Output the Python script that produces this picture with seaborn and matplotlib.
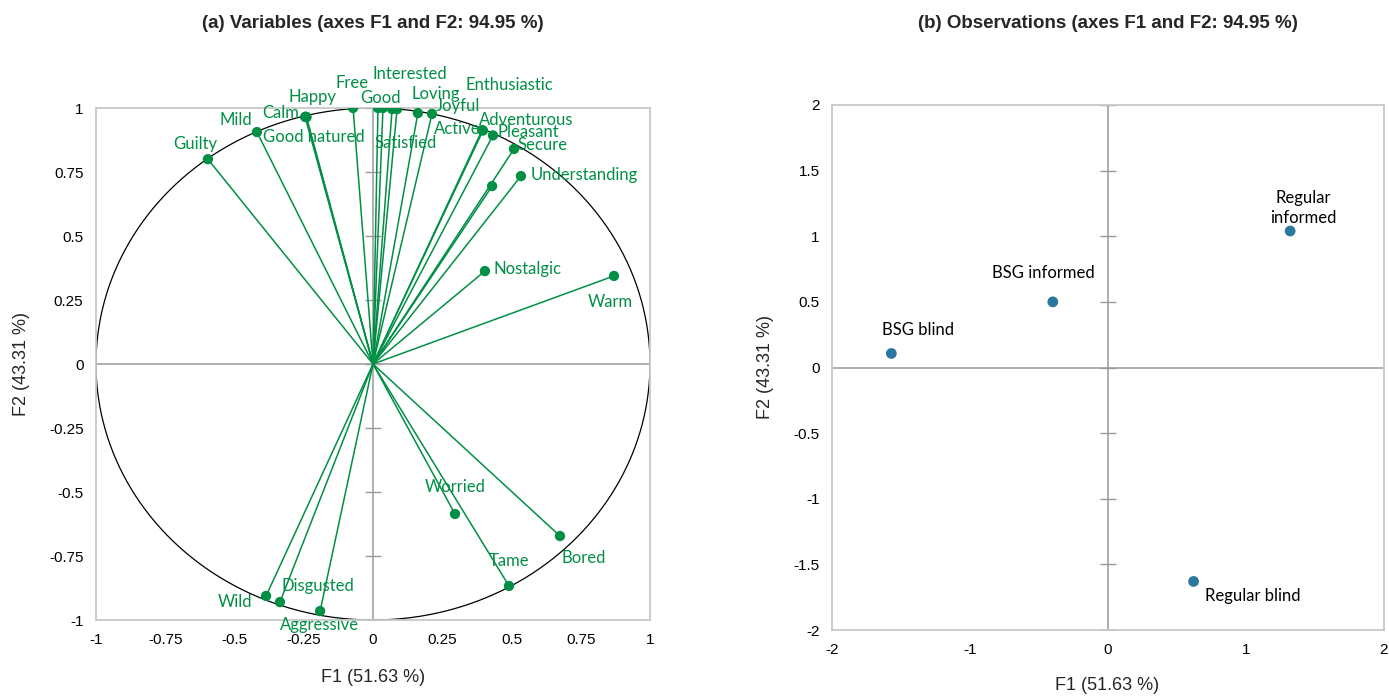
import numpy as np
import pandas as pd
import matplotlib
matplotlib.use("Agg")
import matplotlib.pyplot as plt
import seaborn as sns

# variables (correlation circle)
var_names = ["Guilty", "Mild", "Calm", "Happy", "Good natured", "Free", "Good",
             "Interested", "Satisfied", "Enthusiastic", "Loving", "Joyful",
             "Active", "Adventurous", "Pleasant", "Secure", "Understanding", "",
             "Nostalgic", "Warm", "Worried", "Bored", "Tame", "Wild",
             "Disgusted", "Aggressive"]
var_f1 = [-0.596, -0.419, -0.245, -0.242, -0.240, -0.072, 0.018,
          0.036, 0.069, 0.087, 0.162, 0.213,
          0.394, 0.397, 0.433, 0.509, 0.534, 0.430,
          0.404, 0.870, 0.296, 0.675, 0.491, -0.386,
          -0.336, -0.191]
var_f2 = [0.800, 0.906, 0.965, 0.966, 0.964, 1.000, 1.000,
          1.000, 0.996, 0.996, 0.980, 0.977,
          0.914, 0.912, 0.893, 0.840, 0.734, 0.695,
          0.363, 0.344, -0.586, -0.672, -0.867, -0.906,
          -0.930, -0.965]

# observations
obs_names = ["BSG blind", "BSG informed", "Regular\ninformed", "Regular blind"]
obs_f1 = [-1.57, -0.40, 1.32, 0.62]
obs_f2 = [0.107, 0.50, 1.04, -1.63]

# label offsets in pixels (layout only)
var_offsets = {
    "Guilty": (-13, 15), "Mild": (-21, 12), "Calm": (-24, 4), "Happy": (7, 20),
    "Good natured": (7, -20), "Free": (-1, 25), "Good": (3, 10),
    "Interested": (27, 34), "Satisfied": (14, -34), "Enthusiastic": (112, 24),
    "Loving": (18, 19), "Joyful": (26, 8), "Active": (-25, 1),
    "Adventurous": (43, 11), "Pleasant": (35, 3), "Secure": (29, 4),
    "Understanding": (63, 1), "Nostalgic": (43, 2), "Warm": (-4, -26),
    "Worried": (0, 27), "Bored": (24, -22), "Tame": (0, 25),
    "Disgusted": (38, 16), "Wild": (-31, -6), "Aggressive": (-1, -14),
}
obs_offsets = {"BSG blind": (27, 23), "BSG informed": (-9, 29),
               "Regular\ninformed": (13, 23), "Regular blind": (59, -15)}

sns.set_style("white")
plt.rcParams["font.family"] = ["Liberation Sans", "DejaVu Sans"]

green = "#008f45"
blue = "#2b77a0"
frame = "#c8c8c8"
axis_gray = "#999999"
label_font = "Lato"

fig = plt.figure(figsize=(13.89, 6.97), dpi=100)
ax1 = fig.add_axes([96 / 1389, 77 / 697, 554 / 1389, 512 / 697])
ax2 = fig.add_axes([832 / 1389, 67 / 697, 552 / 1389, 525 / 697])

# ---- (a) variables
t = np.linspace(0, 2 * np.pi, 400)
ax1.plot(np.cos(t), np.sin(t), color="black", lw=0.9, zorder=2)
ax1.axhline(0, color=axis_gray, lw=1.1, zorder=1)
ax1.axvline(0, color=axis_gray, lw=1.1, zorder=1)
for x, y in zip(var_f1, var_f2):
    ax1.plot([0, x], [0, y], color=green, lw=1.1, zorder=3)
df_var = pd.DataFrame({"F1": var_f1, "F2": var_f2, "name": var_names})
sns.scatterplot(data=df_var, x="F1", y="F2", ax=ax1, color=green, s=55,
                edgecolor="none", zorder=4)
for name, x, y in zip(var_names, var_f1, var_f2):
    if not name:
        continue
    dx, dy = var_offsets[name]
    ax1.annotate(name, (x, y), xytext=(dx, dy), textcoords="offset pixels",
                 ha="center", va="center", color=green, fontsize=12,
                 family=label_font)
ticks1 = [-1, -0.75, -0.5, -0.25, 0, 0.25, 0.5, 0.75, 1]
tick_lab1 = ["-1", "-0.75", "-0.5", "-0.25", "0", "0.25", "0.5", "0.75", "1"]
ax1.set_xlim(-1, 1)
ax1.set_ylim(-1, 1)
ax1.set_xticks(ticks1, tick_lab1)
ax1.set_yticks(ticks1, tick_lab1)
ax1.plot(np.zeros(len(ticks1)), ticks1, ls="none", marker="_", ms=12,
         mew=1, color=axis_gray, zorder=1)

# ---- (b) observations
ax2.axhline(0, color=axis_gray, lw=1.1, zorder=1)
ax2.axvline(0, color=axis_gray, lw=1.1, zorder=1)
df_obs = pd.DataFrame({"F1": obs_f1, "F2": obs_f2, "name": obs_names})
sns.scatterplot(data=df_obs, x="F1", y="F2", ax=ax2, color=blue, s=60,
                edgecolor="none", zorder=4)
for name, x, y in zip(obs_names, obs_f1, obs_f2):
    dx, dy = obs_offsets[name]
    ax2.annotate(name, (x, y), xytext=(dx, dy), textcoords="offset pixels",
                 ha="center", va="center", color="black", fontsize=12,
                 family=label_font, linespacing=1.25)
ticks2 = [-2, -1.5, -1, -0.5, 0, 0.5, 1, 1.5, 2]
ax2.set_xlim(-2, 2)
ax2.set_ylim(-2, 2)
ax2.set_xticks([-2, -1, 0, 1, 2], ["-2", "-1", "0", "1", "2"])
ax2.set_yticks(ticks2, ["-2", "-1.5", "-1", "-0.5", "0", "0.5", "1", "1.5", "2"])
ax2.plot(np.zeros(len(ticks2)), ticks2, ls="none", marker="_", ms=12,
         mew=1, color=axis_gray, zorder=1)

for ax in (ax1, ax2):
    for sp in ax.spines.values():
        sp.set_color(frame)
        sp.set_linewidth(1.3)
    ax.tick_params(length=0, labelsize=11, colors="black", pad=9)
    ax.set_xlabel("")
    ax.set_ylabel("")
    legend = ax.get_legend()
    if legend:
        legend.remove()

fig.text(373 / 1389, 1 - 677 / 697, "F1 (51.63 %)", ha="center", va="center", fontsize=13)
fig.text(22 / 1389, 1 - 364 / 697, "F2 (43.31 %)", ha="center", va="center",
         fontsize=13, rotation=90)
fig.text(1107 / 1389, 1 - 686 / 697, "F1 (51.63 %)", ha="center", va="center", fontsize=13)
fig.text(765 / 1389, 1 - 367 / 697, "F2 (43.31 %)", ha="center", va="center",
         fontsize=13, rotation=90)
fig.text(373 / 1389, 1 - 23 / 697, "(a) Variables (axes F1 and F2: 94.95 %)",
         ha="center", va="center", fontsize=13.5, fontweight="bold")
fig.text(1108 / 1389, 1 - 23 / 697, "(b) Observations (axes F1 and F2: 94.95 %)",
         ha="center", va="center", fontsize=13.5, fontweight="bold")

fig.savefig("out.png", dpi=100, facecolor="white")
